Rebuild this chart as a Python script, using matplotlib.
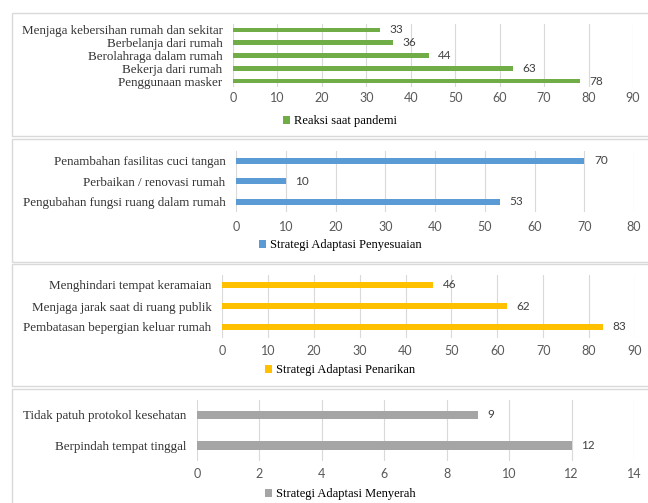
import matplotlib
matplotlib.use("Agg")
import matplotlib.pyplot as plt
from matplotlib.patches import Rectangle

# data
cat1 = ['Menjaga kebersihan rumah dan sekitar', 'Berbelanja dari rumah',
        'Berolahraga dalam rumah', 'Bekerja dari rumah', 'Penggunaan masker']
val1 = [33, 36, 44, 63, 78]

cat2 = ['Penambahan fasilitas cuci tangan', 'Perbaikan / renovasi rumah',
        'Pengubahan fungsi ruang dalam rumah']
val2 = [70, 10, 53]

cat3 = ['Menghindari tempat keramaian', 'Menjaga jarak saat di ruang publik',
        'Pembatasan bepergian keluar rumah']
val3 = [46, 62, 83]

cat4 = ['Tidak patuh protokol kesehatan', 'Berpindah tempat tinggal']
val4 = [9, 12]

series = ['Reaksi saat pandemi', 'Strategi Adaptasi Penyesuaian',
          'Strategi Adaptasi Penarikan', 'Strategi Adaptasi Menyerah']
xmax = [90, 80, 90, 14]
xstep = [10, 10, 10, 2]
colors = ['#70AD47', '#5B9BD5', '#FFC000', '#A5A5A5']

W, H = 648, 503
fig = plt.figure(figsize=(W / 100, H / 100), dpi=100)

serif = 'Liberation Serif'
sans = 'Lato'

# panel layout in pixels: (x0, x1, ytop, ybot), bar height, tick pad, legend y
axbox = [(233, 633, 23.6, 87.4), (236, 634, 150.5, 212), (222, 635, 274.5, 337.5), (197, 634, 399.75, 460.75)]
barh = [0.36, 0.30, 0.30, 0.28]
xpad = [3.5, 6.5, 5.5, 5]
legy = [121, 245, 370, 494]
frames = [(13, 136), (139, 262), (264, 386), (389, 510)]

for top, bot in frames:
    fig.patches.append(Rectangle((12 / W, 1 - bot / H), (W + 10 - 12) / W, (bot - top) / H,
                                 transform=fig.transFigure, fill=False,
                                 edgecolor='#D9D9D9', linewidth=1))

data = [(cat1, val1), (cat2, val2), (cat3, val3), (cat4, val4)]
for i, (cats, vals) in enumerate(data):
    x0, x1, yt, yb = axbox[i]
    ax = fig.add_axes([x0 / W, 1 - yb / H, (x1 - x0) / W, (yb - yt) / H])
    n = len(cats)
    pos = list(range(n))[::-1]
    bars = ax.barh(pos, vals, height=barh[i], color=colors[i], label=series[i], zorder=3)
    ax.set_ylim(-0.5, n - 0.5)
    ax.set_xlim(0, xmax[i])
    ax.set_xticks(range(0, xmax[i] + 1, xstep[i]))
    ax.set_yticks(pos)
    ax.set_yticklabels(cats, family=serif, fontsize=9.4, color='#333333')
    for lab in ax.get_xticklabels():
        lab.set_family(sans)
    ax.tick_params(axis='x', length=0, pad=xpad[i], labelsize=9, labelcolor='#595959')
    ax.tick_params(axis='y', length=0, pad=7.5)
    ax.grid(axis='x', color='#D9D9D9', linewidth=0.8, zorder=0)
    for s in ax.spines.values():
        s.set_visible(False)
    for b, v in zip(bars, vals):
        ax.annotate(str(v), (v, b.get_y() + b.get_height() / 2), xytext=(7, 0),
                    textcoords='offset points', va='center', ha='left',
                    fontsize=8.5, family=sans, color='#404040')
    ax.legend(loc='center', bbox_to_anchor=(340 / W, 1 - legy[i] / H),
              bbox_transform=fig.transFigure, frameon=False,
              handlelength=0.6, handleheight=0.6, handletextpad=0.3,
              prop={'family': serif, 'size': 9})

fig.savefig('out.png', dpi=100)
